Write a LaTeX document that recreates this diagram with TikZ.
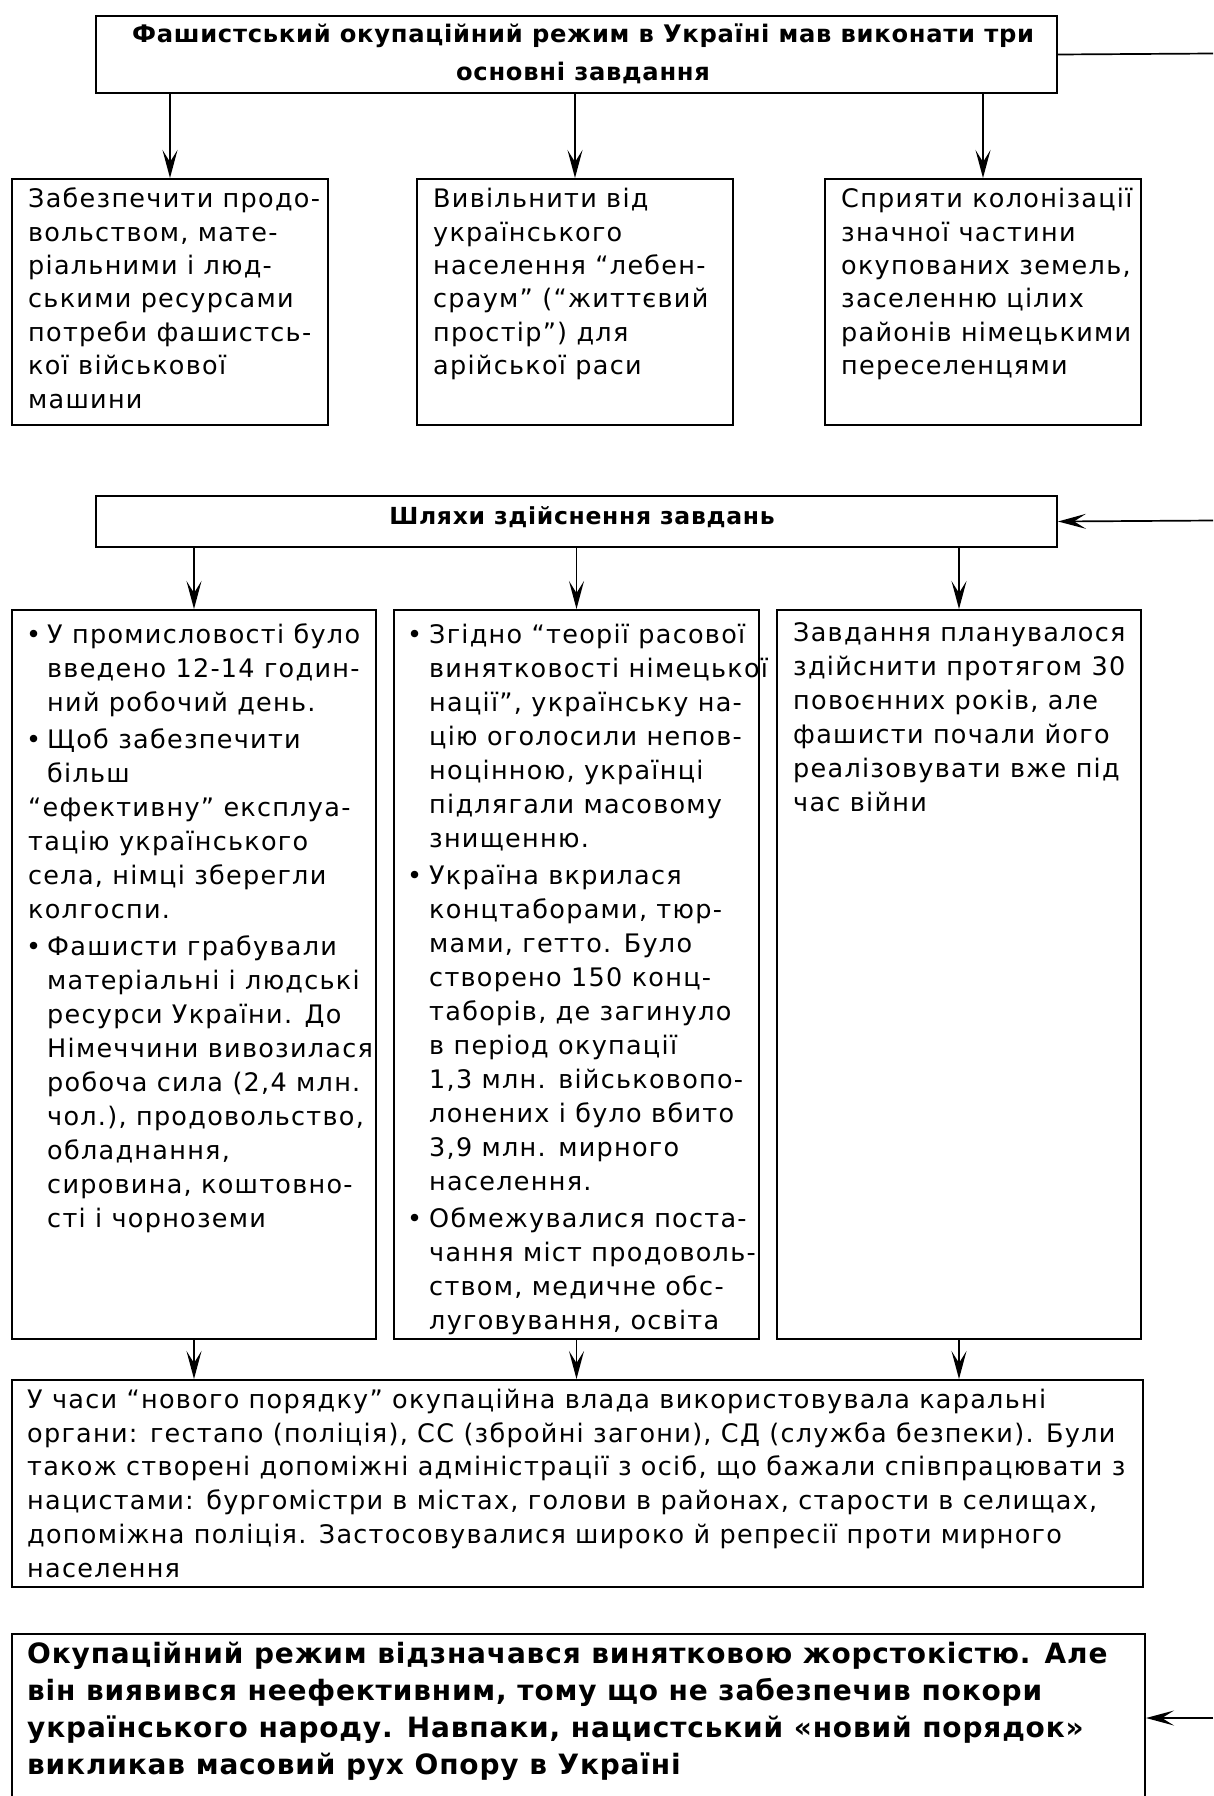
\documentclass[tikz,border=0pt]{standalone}
\usepackage{fontspec}
\setmainfont{DejaVu Sans}
\newfontfamily\bodyf[LetterSpace=5]{DejaVu Sans}
\newfontfamily\headf[LetterSpace=3]{DejaVu Sans}
\usetikzlibrary{arrows.meta}
\newcommand\bulA{\makebox[19pt][l]{\hspace{-2pt}•}}
\newcommand\bulB{\makebox[20pt][l]{\hspace{-2pt}•}}
\newcommand\indA{\hspace*{19pt}}
\newcommand\indB{\hspace*{20pt}}
\newcommand\strutN{\rule{0pt}{22pt}}
\newcommand\strutB{\rule{0pt}{24pt}}
\begin{document}
\begin{tikzpicture}[x=1pt,y=-1pt,
  box/.style={draw, line width=2pt, rectangle, inner sep=0pt, anchor=north west},
  arr/.style={line width=1.7pt, -{Stealth[length=28pt,width=15pt,inset=12pt]}},
  conn/.style={line width=1.7pt},
  body/.style={anchor=north west, inner sep=0pt, align=left, font=\bodyf\fontsize{25.5}{34}\selectfont},
  bodyA/.style={body, font=\bodyf\fontsize{25.5}{33.4}\selectfont},
  bodyC/.style={body, font=\bodyf\fontsize{25.5}{33.8}\selectfont},
  head/.style={anchor=north, inner sep=0pt, align=center, font=\headf\bfseries\fontsize{24.2}{38}\selectfont},
  headW/.style={head, font=\headf\bfseries\fontsize{23.5}{38}\selectfont},
  big/.style={anchor=north west, inner sep=0pt, align=left, font=\headf\bfseries\fontsize{28}{37}\selectfont}]
\fill[white] (0,0) rectangle (1213,1796);
\useasboundingbox (0,0) rectangle (1213,1796);

% boxes
\node[box, minimum width=961pt, minimum height=77pt] (top) at (95,15) {};
\node[box, minimum width=316pt, minimum height=246pt] (b1) at (11,178) {};
\node[box, minimum width=316pt, minimum height=246pt] (b2) at (416,178) {};
\node[box, minimum width=316pt, minimum height=246pt] (b3) at (824,178) {};
\node[box, minimum width=961pt, minimum height=51pt] (w) at (95,495) {};
\node[box, minimum width=364pt, minimum height=729pt] (c1) at (11,609) {};
\node[box, minimum width=365pt, minimum height=729pt] (c2) at (393,609) {};
\node[box, minimum width=364pt, minimum height=729pt] (c3) at (776,609) {};
\node[box, minimum width=1131pt, minimum height=207pt] (bot) at (11,1379) {};
\node[box, minimum width=1133pt, minimum height=165pt] (fin) at (11,1633) {};

% texts
\node[head] (ttop) at (583,20) {\strutN Фашистський окупаційний режим в Україні мав виконати три\\основні завдання};
\node[headW] (tw) at (582,502) {\strutN Шляхи здійснення завдань};

\node[bodyA] (tb1) at (28,185.5) {\strutN Забезпечити продо-\\вольством, мате-\\ріальними і люд-\\ськими ресурсами\\потреби фашистсь-\\кої військової\\машини};
\node[bodyA] (tb2) at (433,185.5) {\strutN Вивільнити від\\українського\\населення “лебен-\\сраум” (“життєвий\\простір”) для\\арійської раси};
\node[bodyA] (tb3) at (841,185.5) {\strutN Сприяти колонізації\\значної частини\\окупованих земель,\\заселенню цілих\\районів німецькими\\переселенцями};

\node[body] (tc1) at (28,621) {\strutN\bulA У промисловості було\\
\indA введено 12-14 годин-\\
\indA ний робочий день.\\[3pt]
\bulA Щоб забезпечити\\
\indA більш\\
“ефективну” експлуа-\\
тацію українського\\
села, німці зберегли\\
колгоспи.\\[3pt]
\bulA Фашисти грабували\\
\indA матеріальні і людські\\
\indA ресурси України. До\\
\indA Німеччини вивозилася\\
\indA робоча сила (2,4 млн.\\
\indA чол.), продовольство,\\
\indA обладнання,\\
\indA сировина, коштовно-\\
\indA сті і чорноземи};

\node[body] (tc2) at (409,621) {\strutN\bulB Згідно “теорії расової\\
\indB винятковості німецької\\
\indB нації”, українську на-\\
\indB цію оголосили непов-\\
\indB ноцінною, українці\\
\indB підлягали масовому\\
\indB знищенню.\\[3pt]
\bulB Україна вкрилася\\
\indB концтаборами, тюр-\\
\indB мами, гетто. Було\\
\indB створено 150 конц-\\
\indB таборів, де загинуло\\
\indB в період окупації\\
\indB 1,3 млн. військовопо-\\
\indB лонених і було вбито\\
\indB 3,9 млн. мирного\\
\indB населення.\\[3pt]
\bulB Обмежувалися поста-\\
\indB чання міст продоволь-\\
\indB ством, медичне обс-\\
\indB луговування, освіта};

\node[body] (tc3) at (793,619) {\strutN Завдання планувалося\\здійснити протягом 30\\повоєнних років, але\\фашисти почали його\\реалізовувати вже під\\час війни};

\node[bodyC] (tbot) at (27,1386) {\strutN У часи “нового порядку” окупаційна влада використовувала каральні\\
органи: гестапо (поліція), СС (збройні загони), СД (служба безпеки). Були\\
також створені допоміжні адміністрації з осіб, що бажали співпрацювати з\\
нацистами: бургомістри в містах, голови в районах, старости в селищах,\\
допоміжна поліція. Застосовувалися широко й репресії проти мирного\\
населення};

\node[big] (tfin) at (27,1639) {\strutB Окупаційний режим відзначався винятковою жорстокістю. Але\\
він виявився неефективним, тому що не забезпечив покори\\
українського народу. Навпаки, нацистський «новий порядок»\\
викликав масовий рух Опору в Україні};

% connectors
\draw[arr] (top.south -| b1.north) -- (b1.north);
\draw[arr] (top.south -| b2.north) -- (b2.north);
\draw[arr] (top.south -| b3.north) -- (b3.north);
\draw[arr] (w.south -| c1.north) -- (c1.north);
\draw[arr] (w.south -| c2.north) -- (c2.north);
\draw[arr] (w.south -| c3.north) -- (c3.north);
\draw[arr] (c1.south) -- (c1.south |- bot.north);
\draw[arr] (c2.south) -- (c2.south |- bot.north);
\draw[arr] (c3.south) -- (c3.south |- bot.north);

\coordinate (eA) at (1213,53.5);
\coordinate (eB) at (1213,520.5);
\coordinate (eC) at (1213,1718);
\draw[conn] (top.east) -- (eA);
\draw[arr] (eB) -- (w.east);
\draw[arr] (eC) -- (eC -| fin.east);
\end{tikzpicture}
\end{document}
